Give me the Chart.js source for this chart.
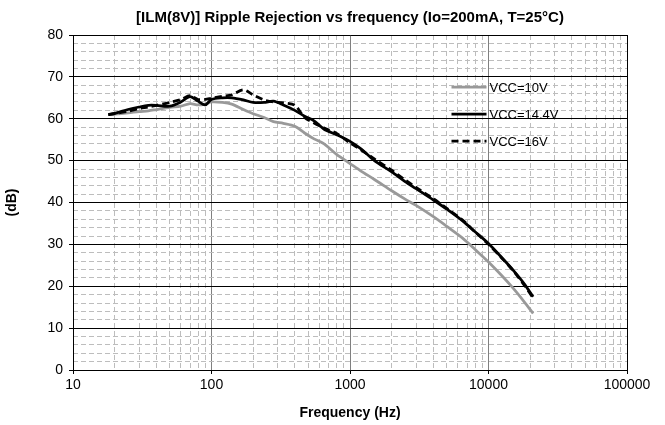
<!DOCTYPE html>
<html lang="en">
<head>
<meta charset="UTF-8">
<title>[ILM(8V)] Ripple Rejection vs frequency</title>
<script src="https://cdn.jsdelivr.net/npm/chart.js"></script>
<style>
  body, html { margin: 0; padding: 0; background: #fff; }
  #wrap { width: 665px; height: 425px; }
</style>
</head>
<body>
<div id="wrap"><canvas id="rrChart" width="665" height="425"></canvas></div>
<script>
const freqHz = [18, 20, 25, 30, 35, 40, 50, 60, 70, 80, 90, 100, 120, 140, 170, 200, 240, 280, 330, 400,
                470, 550, 650, 800, 1000, 1200, 1500, 2000, 2500, 3000, 4000, 5000, 6500, 8000, 10000,
                12500, 15000, 18000, 21000];
const vcc10 = [61.0, 61.1, 61.4, 61.7, 61.9, 62.2, 62.7, 63.0, 63.6, 63.3, 63.5, 64.0, 63.9, 63.5, 62.2, 61.2,
               60.3, 59.3, 58.9, 58.2, 56.6, 55.2, 54.0, 51.5, 49.3, 47.5, 45.5, 42.8, 40.8, 39.3, 36.6,
               34.3, 31.5, 28.8, 25.8, 22.5, 19.6, 16.4, 13.5];
const vcc144 = [61.0, 61.3, 62.2, 62.8, 63.2, 63.2, 63.0, 64.0, 65.3, 64.2, 63.3, 64.6, 65.0, 65.0, 64.5, 63.9,
                63.9, 64.2, 63.3, 62.0, 60.6, 59.5, 57.5, 56.2, 54.6, 52.8, 50.0, 47.3, 45.0, 43.3, 40.6,
                38.4, 35.6, 33.0, 30.2, 26.8, 23.9, 20.7, 17.5];
const vcc16 = [61.0, 61.2, 61.8, 62.4, 62.8, 63.2, 63.9, 64.6, 65.5, 64.6, 64.6, 64.9, 65.4, 65.7, 66.9, 65.7,
               64.5, 64.0, 63.8, 63.2, 60.3, 59.0, 57.8, 56.5, 54.2, 52.6, 50.4, 47.7, 45.4, 43.6, 40.9,
               38.6, 35.8, 33.0, 30.0, 26.7, 23.8, 20.4, 17.2];
const seriesLabels = ['VCC=10V', 'VCC=14.4V', 'VCC=16V'];
const xMajorTicks = [10, 100, 1000, 10000, 100000];
const yMajorTicks = [0, 10, 20, 30, 40, 50, 60, 70, 80];

// minor grid positions
const xMinorTicks = [];
for (let d = 10; d < 100000; d *= 10) {
  for (let k = 2; k <= 9; k++) xMinorTicks.push(k * d);
}
const yMinorTicks = [];
for (let v = 2; v < 80; v += 2) {
  if (v % 10 !== 0) yMinorTicks.push(v);
}

const FONT = '"Liberation Sans", Arial, sans-serif';
const toPoints = (ys) => freqHz.map((f, i) => ({ x: f, y: ys[i] }));

// legend drawn inside the plot, left of the 10000 Hz line
const insideLegend = {
  id: 'insideLegend',
  afterDraw(chart) {
    const { ctx, chartArea } = chart;
    const x0 = chart.scales.x.getPixelForValue(10000);
    ctx.save();
    ctx.font = '13px ' + FONT;
    ctx.textBaseline = 'middle';
    ctx.textAlign = 'left';
    chart.data.datasets.forEach((ds, i) => {
      const y = chartArea.top + 52 + i * 27;
      ctx.strokeStyle = ds.borderColor;
      ctx.lineWidth = ds.borderWidth;
      ctx.setLineDash(ds.borderDash || []);
      ctx.beginPath();
      ctx.moveTo(x0 - 37, y);
      ctx.lineTo(x0 - 2, y);
      ctx.stroke();
      ctx.setLineDash([]);
      ctx.fillStyle = '#000';
      ctx.fillText(ds.label, x0 + 1, y + 1);
    });
    ctx.restore();
  }
};

new Chart(document.getElementById('rrChart'), {
  type: 'line',
  data: {
    datasets: [
      {
        label: seriesLabels[0],
        data: toPoints(vcc10),
        borderColor: '#999999',
        borderWidth: 2.75,
        order: 3
      },
      {
        label: seriesLabels[1],
        data: toPoints(vcc144),
        borderColor: '#000000',
        borderWidth: 2.75,
        order: 2
      },
      {
        label: seriesLabels[2],
        data: toPoints(vcc16),
        borderColor: '#000000',
        borderWidth: 2.75,
        borderDash: [7, 4],
        order: 1
      }
    ]
  },
  options: {
    responsive: false,
    animation: false,
    devicePixelRatio: 1,
    elements: {
      point: { radius: 0 },
      line: { tension: 0.3 }
    },
    layout: { padding: { left: 0, right: 38, top: 0, bottom: 0 } },
    plugins: {
      legend: { display: false },
      tooltip: { enabled: false },
      title: {
        display: true,
        fullSize: false,
        text: '[ILM(8V)] Ripple Rejection vs frequency (Io=200mA, T=25°C)',
        color: '#000',
        font: { family: FONT, size: 15, weight: 'bold' },
        padding: { top: 9, bottom: 8 }
      }
    },
    scales: {
      x: {
        type: 'logarithmic',
        position: 'bottom',
        min: 10,
        max: 100000,
        afterBuildTicks: (scale) => { scale.ticks = xMajorTicks.map(v => ({ value: v })); },
        afterFit: (scale) => { scale.height = 55; },
        grid: {
          color: (c) => (c.tick && c.tick.value === 100000 ? '#000' : '#808080'),
          lineWidth: 1,
          tickLength: 4,
          tickColor: '#000'
        },
        border: { color: '#000', width: 1 },
        ticks: {
          color: '#000',
          font: { family: FONT, size: 14 },
          padding: 3,
          maxRotation: 0,
          callback: (v) => String(v)
        },
        title: {
          display: true,
          text: 'Frequency (Hz)',
          color: '#000',
          font: { family: FONT, size: 14, weight: 'bold' },
          padding: { top: 4, bottom: 3 }
        }
      },
      x2: {
        type: 'logarithmic',
        position: 'bottom',
        min: 10,
        max: 100000,
        z: -1,
        afterBuildTicks: (scale) => { scale.ticks = xMinorTicks.map(v => ({ value: v })); },
        grid: { color: '#bdbdbd', lineWidth: 1, drawTicks: false },
        border: { display: false, dash: [5, 3] },
        ticks: { display: false }
      },
      y: {
        position: 'left',
        min: 0,
        max: 80,
        afterBuildTicks: (scale) => { scale.ticks = yMajorTicks.map(v => ({ value: v })); },
        afterFit: (scale) => { scale.width = 73; },
        grid: { color: '#000', lineWidth: 1, tickLength: 4, tickColor: '#000' },
        border: { color: '#000', width: 1 },
        ticks: {
          color: '#000',
          font: { family: FONT, size: 14 },
          padding: 6
        },
        title: {
          display: true,
          text: '(dB)',
          color: '#000',
          font: { family: FONT, size: 14, weight: 'bold' },
          padding: { top: 4, bottom: 4 }
        }
      },
      y2: {
        position: 'left',
        min: 0,
        max: 80,
        z: -1,
        afterBuildTicks: (scale) => { scale.ticks = yMinorTicks.map(v => ({ value: v })); },
        grid: { color: '#bdbdbd', lineWidth: 1, drawTicks: false },
        border: { display: false, dash: [5, 3] },
        ticks: { display: false }
      }
    }
  },
  plugins: [insideLegend]
});
</script>
</body>
</html>
